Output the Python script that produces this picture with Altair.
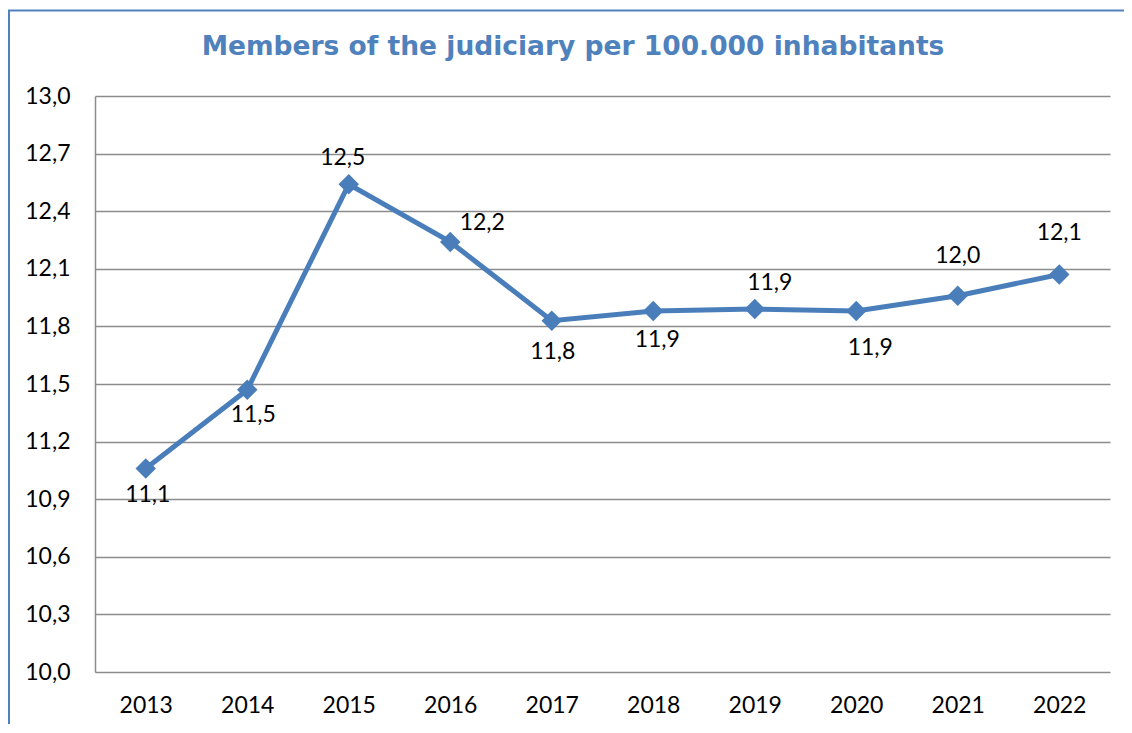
import altair as alt
import pandas as pd

years = ["2013", "2014", "2015", "2016", "2017", "2018", "2019", "2020", "2021", "2022"]
values = [11.06, 11.47, 12.54, 12.24, 11.83, 11.88, 11.89, 11.88, 11.96, 12.07]
labels = ["11,1", "11,5", "12,5", "12,2", "11,8", "11,9", "11,9", "11,9", "12,0", "12,1"]
y_ticks = [10.0, 10.3, 10.6, 10.9, 11.2, 11.5, 11.8, 12.1, 12.4, 12.7, 13.0]
title_text = "Members of the judiciary per 100.000 inhabitants"

df = pd.DataFrame({"year": years, "value": values, "label": labels})

BLUE = "#4A7EBB"
GRID = "#8C8C8C"
FONT = "Lato"

# label offsets (style, in pixels) per year
label_offsets = {
    "2013": (2, 27), "2014": (6, 25), "2015": (-6, -26), "2016": (32, -19),
    "2017": (1, 31), "2018": (4, 29), "2019": (15, -26), "2020": (14, 37),
    "2021": (0, -40), "2022": (0, -42),
}

x_enc = alt.X("year:N", sort=years,
              scale=alt.Scale(type="point", padding=0.5),
              axis=alt.Axis(title=None, labelAngle=0, domain=False, ticks=False,
                            grid=False, labelFont=FONT, labelFontSize=23,
                            labelColor="#000000", labelPadding=22))
y_enc = alt.Y("value:Q",
              scale=alt.Scale(domain=[10, 13], nice=False, zero=False),
              axis=alt.Axis(title=None, values=y_ticks, ticks=False,
                            domain=True, domainColor=GRID, domainWidth=1.5,
                            grid=True, gridColor=GRID, gridWidth=1.5,
                            labelFont=FONT, labelFontSize=23, labelColor="#000000",
                            labelPadding=25,
                            labelExpr="replace(format(datum.value, '.1f'), '.', ',')"))

base = alt.Chart(df)

line = base.mark_line(color=BLUE, strokeWidth=5).encode(x=x_enc, y=y_enc)
points = base.mark_point(shape="diamond", filled=True, size=420, color=BLUE, opacity=1).encode(
    x=x_enc, y=y_enc)

texts = []
for yr in years:
    dx, dy = label_offsets[yr]
    texts.append(
        base.transform_filter(alt.datum.year == yr)
        .mark_text(font=FONT, fontSize=23, color="#000000", dx=dx, dy=dy,
                   align="center", baseline="middle")
        .encode(x=x_enc, y=y_enc, text="label:N")
    )

frame_df = pd.DataFrame({"title": [title_text]})
border = alt.Chart(frame_df).mark_rect(
    fill=None, stroke="#4F81BD", strokeWidth=2
).encode(x=alt.value(-86), x2=alt.value(1060), y=alt.value(-85.5), y2=alt.value(660))

title = alt.Chart(frame_df).mark_text(
    font="DejaVu Sans", fontSize=26.5, fontWeight="bold", color="#4F81BD",
    align="center", baseline="middle"
).encode(x=alt.value(478), y=alt.value(-49), text="title:N")

chart = alt.layer(border, title, line, points, *texts).properties(
    width=1015,
    height=576,
    autosize=alt.AutoSizeParams(type="none"),
    padding={"left": 87, "top": 88, "right": 14, "bottom": 52},
).configure_view(stroke=None)

chart.save("out.html", embed_options={"renderer": "svg", "actions": False})
